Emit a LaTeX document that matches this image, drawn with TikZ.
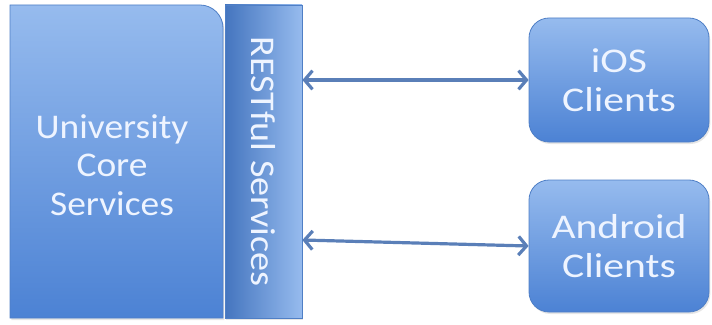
\documentclass[tikz,border=0pt]{standalone}
\usepackage{fontspec}
\setmainfont{Carlito}
\newfontfamily\boxfont[FakeStretch=1.2]{Carlito}
\newfontfamily\corefont[FakeStretch=1.08]{Carlito}
\newfontfamily\barfont[FakeStretch=1.1]{Carlito}
\usetikzlibrary{arrows.meta,shadows}
\definecolor{boxtop}{HTML}{96BBEE}
\definecolor{boxbot}{HTML}{4C82D4}
\definecolor{boxline}{HTML}{4F7FC6}
\definecolor{linkcol}{HTML}{5A7FB8}
\definecolor{txtcol}{HTML}{EEF4FF}
\tikzset{
  clientbox/.style={draw=boxline, line width=0.6pt, rounded corners=15pt,
    top color=boxtop, bottom color=boxbot, minimum width=135pt, inner sep=0pt,
    align=center, text=txtcol, font=\boxfont\fontsize{26pt}{29pt}\selectfont,
    drop shadow={shadow xshift=1pt, shadow yshift=-1.5pt, opacity=.2}},
  link/.style={draw=linkcol, line width=2.4pt,
    {Straight Barb[length=6pt,width=14pt,line width=2.4pt]}-{Straight Barb[length=6pt,width=14pt,line width=2.4pt]}}
}
\begin{document}
\begin{tikzpicture}[x=0.75pt,y=-0.75pt]
\useasboundingbox (0,0) rectangle (712,324);
% core block, rounded top right only
\path[draw=boxline, line width=0.6pt, top color=boxtop, bottom color=boxbot,
  drop shadow={shadow xshift=1pt, shadow yshift=-1.5pt, opacity=.2}]
  (10,318) -- (10,5) -- (200,5) arc[start angle=-90, end angle=0, radius=23] -- (223,318) -- cycle;
\node[align=center, text=txtcol, font=\corefont\fontsize{26pt}{29pt}\selectfont] (core) at (112,165)
  {University\\Core\\Services};
% rest layer
\node[draw=boxline, line width=0.6pt, left color=boxbot!90!black, right color=boxtop,
  minimum width=57.75pt, minimum height=234.75pt, inner sep=0pt, text=txtcol,
  font=\barfont\fontsize{26pt}{29pt}\selectfont,
  drop shadow={shadow xshift=1pt, shadow yshift=-1.5pt, opacity=.2}] (rest) at (263.5,161.5)
  {\rotatebox{-90}{RESTful Services}};
% clients
\node[clientbox, minimum height=93pt] (ios) at (619,80) {iOS\\Clients};
\node[clientbox, minimum height=99pt] (android) at (619,246) {Android\\Clients};
% links
\draw[link] (ios.west -| rest.east) -- (ios.west);
\coordinate (andin) at ([yshift=4.5pt]rest.east |- android.west);
\draw[link] (andin) -- (android.west);
\end{tikzpicture}
\end{document}
